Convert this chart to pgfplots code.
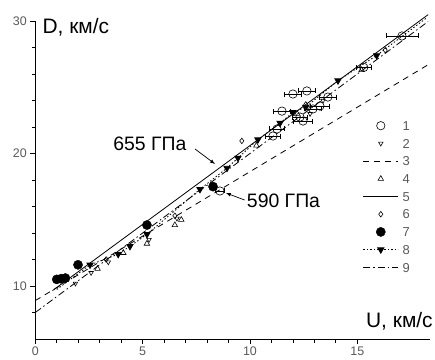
\documentclass[border=0pt]{standalone}
\usepackage{fontspec}
\setmainfont{Liberation Sans}
\usepackage{pgfplots}
\pgfplotsset{compat=1.18}

\definecolor{ticktext}{gray}{0.35}

% legend image: a 35bp line sample with a single mark at its centre
\pgfplotsset{
  midmark legend/.style={
    legend image code/.code={
      \path[draw=none, fill=none] (0bp,-6bp) rectangle (35bp,6bp);
      \draw[##1, mark indices={2}]
        plot coordinates {(0bp,0bp) (17.5bp,0bp) (35bp,0bp)};
    }
  }
}

\begin{document}
\begin{tikzpicture}
\useasboundingbox (-35.3bp,-21bp) rectangle (399.7bp,339bp);
\begin{axis}[
  width=395bp, height=318bp, scale only axis,
  xmin=0, xmax=18.4, ymin=6, ymax=30,
  axis x line*=bottom, axis y line*=left,
  axis line style={line width=0.8bp, -},
  xtick={0,5,10,15}, minor x tick num=4,
  ytick={10,20,30}, minor ytick={8,12,14,16,18,22,24,26,28},
  tick align=outside,
  major tick length=5bp, minor tick length=3.5bp,
  tick style={line width=0.8bp, black},
  /pgf/number format/assume math mode=true,
  tick label style={font=\fontsize{12.5}{14}\selectfont, text=ticktext},
  xticklabel style={yshift=1bp},
  clip=false,
  legend image code/.code={
    \path[draw=none, fill=none] (0bp,-6bp) rectangle (35bp,6bp);
    \draw[mark repeat=2,mark phase=2,#1]
      plot coordinates {(0bp,0bp) (17.5bp,0bp) (35bp,0bp)};
  },
  legend style={
    at={(axis cs:15.26,22.55)}, anchor=north west,
    draw=none, fill=none, inner sep=0pt, outer sep=0pt,
    row sep=5.7bp, column sep=4bp,
    font=\fontsize{13}{15}\selectfont, text=ticktext,
    nodes={inner sep=0pt, text height=9.5bp, text depth=0bp},
  },
  legend cell align=left,
]

% 1: measured points with error bars in U
\addplot[only marks, mark=o, mark size=4.2bp, black, line width=0.6bp,
  error bars/.cd, x dir=both, x explicit,
  error bar style={line width=0.6bp}, error mark options={rotate=90, mark size=2.5bp}]
  coordinates {
  (8.6,17.17) +- (0.2,0)
  (11.07,21.32) +- (0.35,0)
  (11.26,21.85) +- (0.35,0)
  (11.49,23.2) +- (0.4,0)
  (12.0,24.49) +- (0.4,0)
  (12.33,22.75) +- (0.35,0)
  (12.47,22.45) +- (0.45,0)
  (12.65,24.72) +- (0.4,0)
  (12.93,23.36) +- (0.4,0)
  (13.26,23.58) +- (0.45,0)
  (13.63,24.26) +- (0.4,0)
  (15.3,26.5) +- (0.37,0)
  (17.08,28.87) +- (0.75,0)
  };
\addlegendentry{1}

% 2
\addplot[only marks, mark=triangle, mark options={rotate=180}, mark size=2.6bp, black, line width=0.6bp]
  coordinates {(1.87,10.2) (2.6,11.0) (3.4,11.8) (5.3,13.5) (6.6,15.1) (12.8,23.0) (13.4,24.0)};
\addlegendentry{2}

% 3
\addplot[black, line width=0.8bp, dash pattern=on 6bp off 5bp]
  coordinates {(0,8.9) (18.4,26.8)};
\addlegendentry{3}

% 4
\addplot[only marks, mark=triangle, mark size=3.2bp, black, line width=0.6bp]
  coordinates {(2.9,11.3) (4.1,12.5) (5.2,13.2) (6.5,14.6) (6.8,15.0) (10.3,20.6) (12.2,23.0) (15.2,26.3)};
\addlegendentry{4}

% 5
\addplot[black, line width=0.8bp]
  coordinates {(0.8,9.65) (18.3,30.48)};
\addlegendentry{5}

% 6
\addplot[only marks, mark=diamond, mark size=2.8bp, black, line width=0.6bp]
  coordinates {(3.3,12.0) (6.5,15.3) (9.62,20.95) (12.6,23.7) (16.3,27.8)};
\addlegendentry{6}

% 7
\addplot[only marks, mark=*, mark size=4.6bp, black]
  coordinates {(1.0,10.5) (1.2,10.55) (1.4,10.6) (1.99,11.6) (5.2,14.6) (8.28,17.5)};
\addlegendentry{7}

% 8
\addplot[black, line width=0.8bp, dash pattern=on 1.5bp off 2bp,
  mark=triangle*, mark options={rotate=180, solid}, mark size=3.6bp,
  mark indices={2,3,4,5,6,7,8,9,10,11,12,13,14}, midmark legend]
  coordinates {(1.0,9.74) (2.55,11.6) (3.86,12.4) (4.41,13.0) (5.2,13.9) (7.67,17.3)
    (8.93,18.9) (9.44,19.66) (10.37,21.05) (11.4,22.3) (12.0,23.1) (12.6,23.5)
    (14.1,25.5) (15.9,27.4) (18.2,30.2)};
\addlegendentry{8}

% 9
\addplot[black, line width=0.8bp, dash pattern=on 7bp off 3bp on 1.5bp off 3bp]
  coordinates {(0,8.0) (18.3,29.96)};
\addlegendentry{9}

% axis titles
\node[anchor=west, font=\fontsize{21}{24}\selectfont, inner sep=0pt]
  at (axis cs:0.33,29.5) {D, км/с};
\node[anchor=east, font=\fontsize{21}{24}\selectfont, inner sep=0pt]
  at (axis cs:18.52,7.32) {U, км/с};

% pressure labels
\node[font=\fontsize{19.5}{22}\selectfont, inner sep=0pt] at (axis cs:5.34,20.72) {655 ГПа};
\draw[-latex, line width=0.7bp] (axis cs:7.44,20.34) -- (axis cs:8.37,19.21);
\node[anchor=west, font=\fontsize{19.5}{22}\selectfont, inner sep=0pt] at (axis cs:9.85,16.4) {590 ГПа};
\draw[-latex, line width=0.7bp] (axis cs:9.75,16.49) -- (axis cs:8.88,17.02);

\end{axis}
\end{tikzpicture}
\end{document}
